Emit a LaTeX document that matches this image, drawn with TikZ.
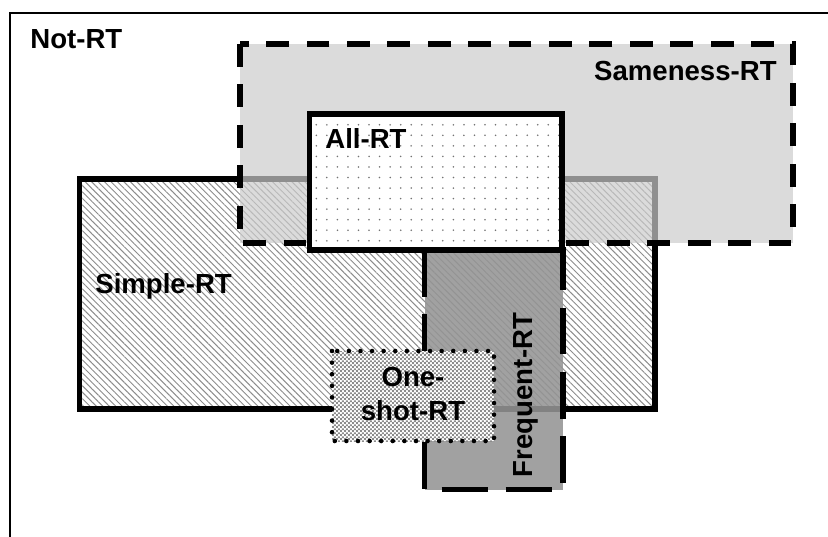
\documentclass[tikz,border=0pt]{standalone}
\usepackage{fontspec}
\setmainfont{Liberation Sans}
\usetikzlibrary{patterns.meta}

\tikzdeclarepattern{
    name=smallDots,
    type=uncolored,
    bounding box={(-3pt,-3pt) and (3pt,3pt)},
    tile size={(6pt,6pt)},
    code={\fill (0,0) circle (0.5pt);}
}
\tikzdeclarepattern{
    name=fineChecker,
    type=uncolored,
    bounding box={(0pt,0pt) and (2.2pt,2.2pt)},
    tile size={(2.2pt,2.2pt)},
    code={
        \fill (0pt,0pt) rectangle (1.1pt,1.1pt);
        \fill (1.1pt,1.1pt) rectangle (2.2pt,2.2pt);
    }
}

\begin{document}
\begin{tikzpicture}[
        x=0.2mm, y=-0.2mm,
        setLabel/.style={
            font=\fontsize{15.7}{19}\selectfont\bfseries,
            inner sep=0pt
        },
        solidSet/.style={
            draw=black,
            line width=3.2pt
        },
        dashedSet/.style={
            draw=black,
            line width=3.2pt,
            dash pattern=on 13pt off 10pt
        },
        longDashedSet/.style={
            draw=black,
            line width=3.2pt,
            dash pattern=on 26.5pt off 10pt
        },
        dottedSet/.style={
            draw=black,
            line width=2.6pt,
            line cap=round,
            dash pattern=on 0pt off 6.6pt
        }
    ]
        \clip (0,0) rectangle (828,536);

        % Not-RT
        \draw[line width=0.9pt] (10,13) rectangle (845,550);

        % Simple-RT
        \draw[solidSet, pattern={Lines[angle=-45, distance=2.6pt, line width=0.55pt]}, pattern color=black!45]
            (79.5,179) rectangle (655,409);

        % Sameness-RT
        \draw[dashedSet, fill=black!20, fill opacity=0.7] (240,44) rectangle (793,243);

        % Frequent-RT
        \draw[longDashedSet, fill=black!42, fill opacity=0.88] (424.5,250) rectangle (563,489.5);

        % All-RT
        \draw[solidSet, preaction={fill=white}, pattern=smallDots, pattern color=black!55]
            (309.5,114) rectangle (562,250);

        % One-shot-RT
        \draw[dottedSet, preaction={fill=white}, pattern=fineChecker, pattern color=black!45]
            (332,351) rectangle (494,441);

        \node[setLabel, anchor=base west] (notRT) at (30,48) {Not-RT};
        \node[setLabel, anchor=base east] (samenessRT) at (777,80) {Sameness-RT};
        \node[setLabel, anchor=base west] (allRT) at (325,148) {All-RT};
        \node[setLabel, anchor=base west] (simpleRT) at (95,293) {Simple-RT};
        \node[setLabel, align=center] (oneShotRT) at (413,394) {One-\\shot-RT};
        \node[setLabel, anchor=base, rotate=90] (frequentRT) at (532,395) {Frequent-RT};

    \end{tikzpicture}
\end{document}
